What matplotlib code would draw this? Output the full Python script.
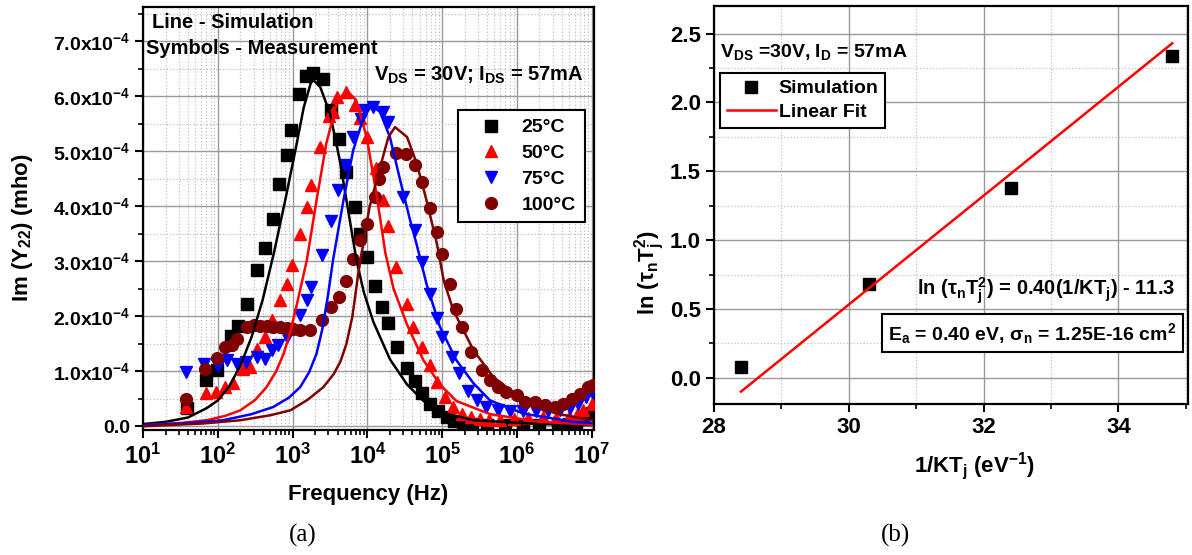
import matplotlib.pyplot as plt
from matplotlib.ticker import FuncFormatter, MultipleLocator, LogLocator, NullFormatter

plt.rcParams['font.family'] = ['Liberation Sans', 'DejaVu Sans']
plt.rcParams['font.weight'] = 'bold'
plt.rcParams['axes.labelweight'] = 'bold'
plt.rcParams['mathtext.fontset'] = 'custom'
plt.rcParams['mathtext.rm'] = 'Liberation Sans:bold'
plt.rcParams['mathtext.bf'] = 'Liberation Sans:bold'
plt.rcParams['mathtext.it'] = 'Liberation Sans:bold:italic'
plt.rcParams['axes.linewidth'] = 1.6

# ---- (a) measured Im(Y22), values in 1e-4 mho ----
f_25 = [39, 69, 98, 150, 186, 245, 330, 430, 550, 660, 830, 950, 1230, 1510, 1860, 2570,
        3240, 4170, 5250, 6760, 7940, 9770, 12600, 15500, 18600, 25100, 33900, 42700,
        53700, 69200, 87100, 115000, 145000, 190000, 250000, 400000, 700000, 1.2e6,
        2.0e6, 3.5e6, 5.0e6, 6.2e6, 7.6e6, 1.0e7]
y_25 = [0.34, 0.85, 1.02, 1.65, 1.82, 2.22, 2.84, 3.24, 3.76, 4.40, 4.93, 5.38, 6.04, 6.37,
        6.42, 6.31, 5.75, 5.22, 4.62, 3.99, 3.50, 3.08, 2.55, 2.16, 1.87, 1.44, 1.06, 0.82,
        0.61, 0.41, 0.27, 0.17, 0.10, 0.06, 0.04, 0.03, 0.03, 0.03, 0.03, 0.03, 0.04, 0.07,
        0.16, 0.24]

f_50 = [38, 69, 95, 126, 162, 219, 269, 331, 427, 537, 676, 832, 977, 1260, 1550, 1780,
        2340, 3090, 3500, 3980, 5250, 6760, 7940, 9770, 13200, 16200, 18600, 24500, 33900,
        40700, 53700, 69200, 85100, 110000, 141000, 182000, 240000, 320000, 420000, 600000,
        900000, 1.4e6, 2.2e6, 3.3e6, 5.0e6, 6.3e6, 7.6e6, 1.0e7]
y_50 = [0.35, 0.61, 0.62, 0.72, 0.78, 1.05, 1.08, 1.41, 1.62, 1.93, 2.29, 2.59, 2.93, 3.50,
        3.99, 4.38, 5.08, 5.65, 5.71, 5.99, 6.08, 5.84, 5.60, 5.26, 4.69, 4.11, 3.65, 2.90,
        2.23, 1.81, 1.44, 1.11, 0.81, 0.53, 0.35, 0.23, 0.17, 0.14, 0.12, 0.12, 0.13, 0.15,
        0.16, 0.15, 0.16, 0.20, 0.29, 0.41]

f_75 = [38, 65, 100, 132, 178, 240, 331, 427, 525, 646, 832, 1260, 1550, 1780, 2450, 3310,
        4070, 5010, 6460, 8320, 9330, 12000, 16200, 19100, 30200, 43700, 53700, 69200, 85100,
        100000, 135000, 166000, 224000, 288000, 389000, 562000, 800000, 1.2e6, 1.8e6, 2.6e6,
        3.8e6, 5.2e6, 6.6e6, 8.5e6, 1.0e7]
y_75 = [0.99, 1.14, 1.10, 1.20, 1.14, 1.17, 1.26, 1.23, 1.38, 1.47, 1.62, 2.02, 2.29, 2.53,
        3.11, 3.73, 4.29, 4.75, 5.26, 5.59, 5.75, 5.81, 5.71, 5.53, 4.17, 3.56, 2.98, 2.40,
        1.96, 1.62, 1.26, 0.96, 0.65, 0.47, 0.35, 0.29, 0.28, 0.28, 0.28, 0.28, 0.29, 0.33,
        0.40, 0.53, 0.62]

f_100 = [38, 68, 98, 126, 155, 178, 245, 300, 363, 450, 550, 680, 832, 1000, 1260, 1700,
         2450, 3310, 4170, 5250, 6460, 7940, 9770, 12600, 14100, 16200, 24500, 33100, 43700,
         53700, 69200, 85100, 100000, 126000, 155000, 182000, 245000, 339000, 437000, 562000,
         724000, 1.0e6, 1.29e6, 1.74e6, 2.34e6, 3.24e6, 4.17e6, 5.37e6, 6.92e6, 8.91e6, 1.05e7]
y_100 = [0.50, 1.05, 1.25, 1.44, 1.47, 1.59, 1.81, 1.84, 1.82, 1.83, 1.81, 1.80, 1.78, 1.77,
         1.75, 1.75, 1.93, 2.16, 2.35, 2.65, 3.05, 3.39, 3.68, 4.17, 4.50, 4.71, 4.97, 4.96,
         4.75, 4.44, 3.96, 3.53, 3.14, 2.59, 2.14, 1.81, 1.35, 1.02, 0.84, 0.72, 0.62, 0.56,
         0.44, 0.44, 0.38, 0.35, 0.41, 0.50, 0.59, 0.72, 0.75]

# ---- (a) simulated Im(Y22) lines, values in 1e-4 mho ----
fs_25 = [10, 20, 40, 71, 100, 141, 200, 282, 398, 562, 794, 1120, 1410, 1820, 2340, 3160,
         4270, 5250, 7080, 8910, 12000, 20000, 33900, 56200, 93300, 263000, 2.04e6, 1.0e7]
ys_25 = [0.04, 0.08, 0.16, 0.33, 0.47, 0.72, 1.10, 1.62, 2.30, 3.15, 4.10, 5.10, 5.80, 6.32,
         6.17, 5.69, 4.84, 4.11, 3.05, 2.45, 1.90, 1.22, 0.76, 0.46, 0.26, 0.11, 0.04, 0.02]

fs_50 = [10, 32, 71, 126, 200, 316, 447, 603, 759, 933, 1120, 1320, 1550, 2090, 2820, 3890,
         5250, 7080, 9770, 13200, 17400, 22400, 33900, 56200, 93300, 155000, 437000, 2.04e6,
         1.0e7]
ys_50 = [0.02, 0.06, 0.11, 0.19, 0.29, 0.48, 0.71, 1.00, 1.32, 1.72, 2.17, 2.60, 3.02, 4.11,
         5.14, 5.87, 6.11, 5.93, 5.26, 4.23, 3.15, 2.50, 1.85, 1.20, 0.76, 0.46, 0.22, 0.08,
         0.03]

fs_75 = [10, 32, 117, 282, 550, 891, 1260, 1660, 2090, 2510, 2950, 3470, 4790, 6460, 8910,
         11500, 14800, 20000, 27500, 37200, 45700, 61700, 93300, 155000, 263000, 437000,
         1.23e6, 5.62e6, 1.0e7]
ys_75 = [0.02, 0.05, 0.11, 0.22, 0.35, 0.52, 0.71, 0.98, 1.32, 1.78, 2.35, 3.02, 4.11, 5.02,
         5.62, 5.84, 5.71, 5.26, 4.47, 3.75, 3.30, 2.59, 1.81, 1.20, 0.78, 0.47, 0.23, 0.08,
         0.06]

fs_100 = [10, 63, 200, 501, 933, 1580, 2570, 3550, 4370, 5250, 6310, 7590, 10700, 14800,
          19100, 23400, 33900, 45700, 61700, 85100, 105000, 141000, 263000, 479000, 1.23e6,
          3.39e6, 1.0e7]
ys_100 = [0.0, 0.05, 0.11, 0.20, 0.29, 0.48, 0.71, 0.95, 1.18, 1.50, 2.00, 2.80, 3.99, 4.71,
          5.26, 5.44, 5.26, 4.78, 4.11, 3.32, 2.65, 2.11, 1.38, 0.90, 0.47, 0.23, 0.11]

temps = ['25°C', '50°C', '75°C', '100°C']
colors = ['#000000', '#ff0000', '#0000ff', '#800000']
markers = ['s', '^', 'v', 'o']

# ---- (b) Arrhenius data ----
inv_kt = [28.4, 30.3, 32.4, 34.8]
ln_tau_t2 = [0.08, 0.68, 1.38, 2.34]
fit_x = [28.4, 34.8]
fit_y = [-0.10, 2.43]

scale = 1e-4

fig = plt.figure(figsize=(11.92, 5.55), dpi=100)
ax1 = fig.add_axes([0.120, 0.225, 0.378, 0.762])
ax2 = fig.add_axes([0.599, 0.272, 0.398, 0.717])

meas = [(f_25, y_25), (f_50, y_50), (f_75, y_75), (f_100, y_100)]
sims = [(fs_25, ys_25), (fs_50, ys_50), (fs_75, ys_75), (fs_100, ys_100)]

for (f, y), lab, c, m in zip(meas, temps, colors, markers):
    ax1.plot(f, [v * scale for v in y], ls='none', marker=m, ms=8.5, color=c,
             mec=c, label=lab, zorder=3)
for (f, y), c in zip(sims, colors):
    ax1.plot(f, [v * scale for v in y], color=c, lw=1.8, zorder=4)

ax1.set_xscale('log')
ax1.set_xlim(10, 1.06e7)
ax1.set_ylim(-0.07e-4, 7.62e-4)
ax1.yaxis.set_major_locator(MultipleLocator(1e-4))
ax1.yaxis.set_minor_locator(MultipleLocator(0.5e-4))
ax1.xaxis.set_major_locator(LogLocator(base=10, numticks=20))
ax1.xaxis.set_minor_locator(LogLocator(base=10, subs=range(2, 10), numticks=100))
ax1.xaxis.set_minor_formatter(NullFormatter())


def yfmt(v, pos):
    if abs(v) < 1e-9:
        return '0.0'
    return '%.1fx10$^{\\mathregular{-4}}$' % (v / 1e-4)


ax1.yaxis.set_major_formatter(FuncFormatter(yfmt))
ax1.tick_params(axis='y', which='major', labelsize=14, length=6, width=1.5, direction='out')
ax1.tick_params(axis='x', which='major', labelsize=17, length=6, width=1.5, direction='out')
ax1.tick_params(which='minor', length=3.5, width=1.2, direction='out')
ax1.grid(True, which='major', color='#9a9a9a', lw=1.0)
ax1.grid(True, which='minor', color='#c0c0c0', lw=0.9, ls=':')
ax1.set_axisbelow(True)

ax1.set_xlabel('Frequency (Hz)', fontsize=16)
ax1.xaxis.set_label_coords(0.499, -0.127)
ax1.set_ylabel('Im (Y$_{\\mathregular{22}}$) (mho)', fontsize=16)
ax1.yaxis.set_label_coords(-0.24, 0.478)

ax1.text(0.02, 0.965, 'Line - Simulation', transform=ax1.transAxes, fontsize=14.5,
         va='center', ha='left')
ax1.text(0.007, 0.903, 'Symbols - Measurement', transform=ax1.transAxes, fontsize=14.5,
         va='center', ha='left')
ax1.text(0.978, 0.84, 'V$_{\\mathregular{DS}}$ = 30V; I$_{\\mathregular{DS}}$ = 57mA',
         transform=ax1.transAxes, fontsize=14.5, va='center', ha='right')

leg1 = ax1.legend(loc='upper right', bbox_to_anchor=(0.98, 0.757), borderaxespad=0,
                  fontsize=14, frameon=True, fancybox=False, framealpha=1, edgecolor='k',
                  handlelength=2.5, handletextpad=0.3, labelspacing=0.42, borderpad=0.45)
leg1.get_frame().set_linewidth(1.5)

# ---- (b) ----
ax2.plot(inv_kt, ln_tau_t2, ls='none', marker='s', ms=8.5, color='k', label='Simulation',
         zorder=3)
ax2.plot(fit_x, fit_y, color='#ff0000', lw=1.8, label='Linear Fit', zorder=4)
ax2.set_xlim(28, 35.04)
ax2.set_ylim(-0.19, 2.70)
ax2.xaxis.set_major_locator(MultipleLocator(2))
ax2.xaxis.set_minor_locator(MultipleLocator(1))
ax2.yaxis.set_major_locator(MultipleLocator(0.5))
ax2.yaxis.set_minor_locator(MultipleLocator(0.25))
ax2.yaxis.set_major_formatter(FuncFormatter(lambda v, p: '%.1f' % v))
ax2.tick_params(which='major', labelsize=16, length=6, width=1.5, direction='out')
ax2.tick_params(which='minor', length=3.5, width=1.2, direction='out')
ax2.grid(True, which='major', color='#9a9a9a', lw=1.0)
ax2.grid(True, which='minor', color='#c0c0c0', lw=0.9, ls=':')
ax2.set_axisbelow(True)

ax2.set_xlabel('1/KT$_{\\mathregular{j}}$ (eV$^{\\mathregular{-1}}$)', fontsize=16)
ax2.xaxis.set_label_coords(0.55, -0.116)
ax2.set_ylabel('ln (τ$_{\\mathregular{n}}$T$_{\\mathregular{j}}^{\\mathregular{2}}$)', fontsize=16)
ax2.yaxis.set_label_coords(-0.1, 0.33)

ax2.text(0.013, 0.884, 'V$_{\\mathregular{DS}}$ =30V, I$_{\\mathregular{D}}$ = 57mA',
         transform=ax2.transAxes, fontsize=14, va='center', ha='left')
leg2 = ax2.legend(loc='upper left', bbox_to_anchor=(0.013, 0.832), borderaxespad=0,
                  fontsize=14, frameon=True, fancybox=False, framealpha=1, edgecolor='k',
                  handlelength=2.5, handletextpad=0.15, labelspacing=0.3, borderpad=0.35,
                  numpoints=1)
leg2.get_frame().set_linewidth(1.5)

ax2.text(0.973, 0.286,
         'ln (τ$_{\\mathregular{n}}$T$_{\\mathregular{j}}^{\\mathregular{2}}$) = 0.40(1/KT$_{\\mathregular{j}}$) - 11.3',
         transform=ax2.transAxes, fontsize=14.5, va='center', ha='right')
ax2.text(0.671, 0.178,
         'E$_{\\mathregular{a}}$ = 0.40 eV, σ$_{\\mathregular{n}}$ = 1.25E-16 cm$^{\\mathregular{2}}$',
         transform=ax2.transAxes, fontsize=14, va='center', ha='center',
         bbox=dict(boxstyle='square,pad=0.35', fc='white', ec='k', lw=1.5))

fig.text(0.254, 0.036, '(a)', fontsize=18, fontweight='normal', family='Liberation Serif',
         ha='center', va='center')
fig.text(0.751, 0.036, '(b)', fontsize=18, fontweight='normal', family='Liberation Serif',
         ha='center', va='center')

fig.savefig('out.png', dpi=100)
